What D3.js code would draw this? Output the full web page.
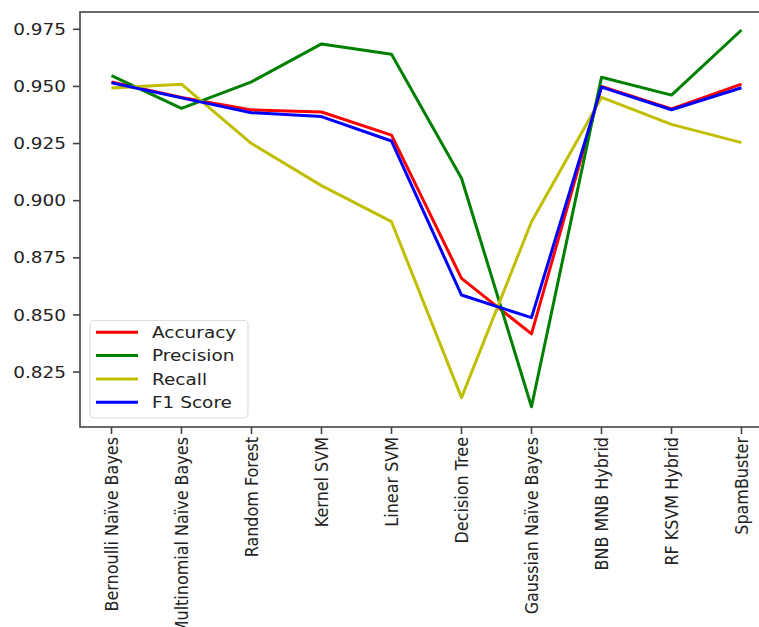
<!DOCTYPE html>
<html>
<head>
<meta charset="utf-8">
<script src="https://cdn.jsdelivr.net/npm/d3@7"></script>
<style>
  html, body { margin: 0; padding: 0; background: #fff; overflow: hidden; }
  text { font-family: "DejaVu Sans", sans-serif; fill: #222; }
</style>
</head>
<body>
<svg id="chart" width="759" height="627"></svg>
<script>
const categories = ["Bernoulli Naïve Bayes", "Multinomial Naïve Bayes", "Random Forest", "Kernel SVM",
  "Linear SVM", "Decision Tree", "Gaussian Naïve Bayes", "BNB MNB Hybrid", "RF KSVM Hybrid", "SpamBuster"];
const accuracy  = [0.9519, 0.9452, 0.9397, 0.9388, 0.9287, 0.8660, 0.8417, 0.9500, 0.9402, 0.9510];
const precision = [0.9547, 0.9404, 0.9520, 0.9686, 0.9641, 0.9098, 0.8098, 0.9540, 0.9462, 0.9747];
const recall    = [0.9493, 0.9510, 0.9250, 0.9066, 0.8908, 0.8138, 0.8908, 0.9452, 0.9334, 0.9254];
const f1score   = [0.9516, 0.9450, 0.9385, 0.9368, 0.9261, 0.8587, 0.8488, 0.9497, 0.9398, 0.9494];
const yTicks = [0.825, 0.850, 0.875, 0.900, 0.925, 0.950, 0.975];
const seriesNames = ["Accuracy", "Precision", "Recall", "F1 Score"];
const seriesColors = ["#ff0000", "#008000", "#bfbf00", "#0000ff"];
const seriesValues = [accuracy, precision, recall, f1score];

(function () {
const svg = d3.select("#chart");
const mLeft = 80, mTop = 12, mBottom = 427;
const step = 70;
const mRight = mLeft + step * 9.9;
const sx = 1.12; // horizontal text stretch seen in the reference

const x = d3.scaleLinear().domain([-0.45, 9.45]).range([mLeft, mRight]);
const y = d3.scaleLinear().domain([0.80095, 0.98257]).range([mBottom, mTop]);

// Lines
const line = d3.line().x((d, i) => x(i)).y(d => y(d));
seriesValues.forEach((vals, k) => {
  svg.append("path")
    .datum(vals)
    .attr("d", line)
    .attr("fill", "none")
    .attr("stroke", seriesColors[k])
    .attr("stroke-width", 3)
    .attr("stroke-linejoin", "round")
    .attr("stroke-linecap", "butt");
});

// Frame
svg.append("rect")
  .attr("x", mLeft).attr("y", mTop)
  .attr("width", mRight - mLeft).attr("height", mBottom - mTop)
  .attr("fill", "none").attr("stroke", "#444").attr("stroke-width", 1.6);

// Y axis ticks
const yAxis = svg.append("g");
yTicks.forEach(t => {
  yAxis.append("line")
    .attr("x1", mLeft - 7).attr("x2", mLeft)
    .attr("y1", y(t)).attr("y2", y(t))
    .attr("stroke", "#444").attr("stroke-width", 1.6);
  yAxis.append("text")
    .attr("transform", `translate(${mLeft - 14},${y(t)}) scale(${sx},1)`)
    .attr("text-anchor", "end")
    .attr("dominant-baseline", "central")
    .attr("font-size", "16.5px")
    .text(d3.format(".3f")(t));
});

// X axis ticks
const xAxis = svg.append("g");
categories.forEach((c, i) => {
  xAxis.append("line")
    .attr("x1", x(i)).attr("x2", x(i))
    .attr("y1", mBottom).attr("y2", mBottom + 7)
    .attr("stroke", "#444").attr("stroke-width", 1.6);
  xAxis.append("text")
    .attr("transform", `translate(${x(i)},${mBottom + 10}) scale(${sx},1) rotate(-90)`)
    .attr("text-anchor", "end")
    .attr("dominant-baseline", "central")
    .attr("font-size", "16px")
    .text(c);
});

// Legend
const lg = svg.append("g");
lg.append("rect")
  .attr("x", 90).attr("y", 320.5).attr("width", 158).attr("height", 97.5)
  .attr("rx", 4).attr("ry", 4)
  .attr("fill", "#fff").attr("fill-opacity", 0.85)
  .attr("stroke", "#ddd").attr("stroke-width", 1.2);
seriesNames.forEach((n, k) => {
  const yy = 332.3 + k * 23.3;
  lg.append("line")
    .attr("x1", 96).attr("x2", 138)
    .attr("y1", yy).attr("y2", yy)
    .attr("stroke", seriesColors[k]).attr("stroke-width", 3);
  lg.append("text")
    .attr("transform", `translate(152,${yy}) scale(${sx},1)`)
    .attr("dominant-baseline", "central")
    .attr("font-size", "16.5px")
    .text(n);
});
})();
</script>
</body>
</html>
